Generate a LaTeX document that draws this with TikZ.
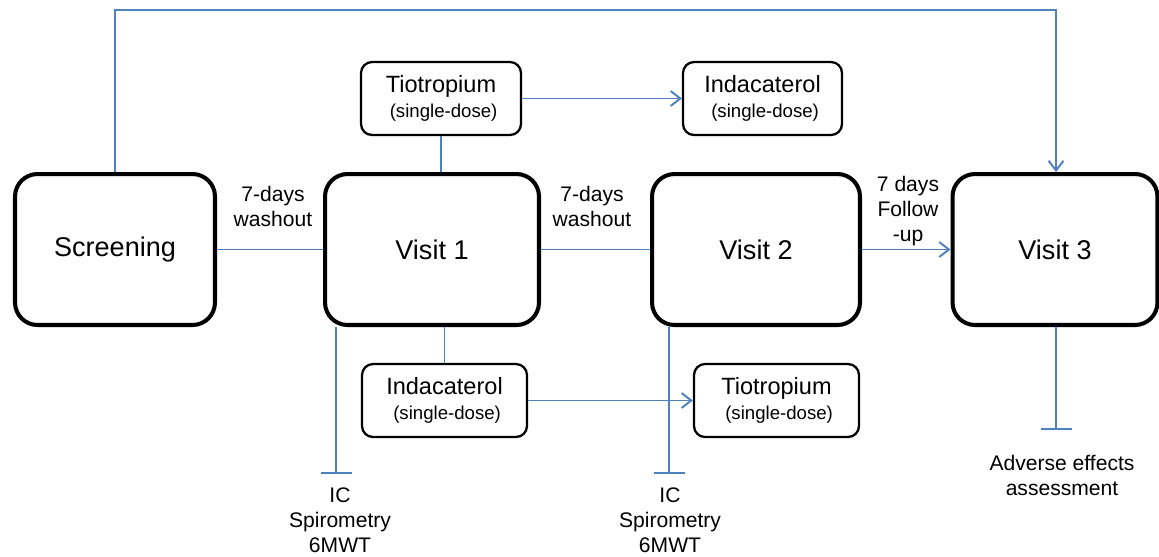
\documentclass[tikz,border=0pt]{standalone}
\usepackage{fontspec}
\setmainfont{Liberation Sans}
\usetikzlibrary{arrows.meta,positioning}
\definecolor{linkblue}{RGB}{79,129,189}

\begin{document}
\begin{tikzpicture}[x=0.02cm,y=-0.02cm,
  visit/.style={draw,line width=2.3pt,rounded corners=0.45cm,minimum height=3.02cm,font=\fontsize{15.4}{18}\selectfont},
  drug/.style={draw,line width=1.3pt,rounded corners=0.22cm,minimum height=1.46cm,align=center,font=\fontsize{13.4}{14.2}\selectfont},
  link/.style={draw=linkblue,line width=1.1pt},
  note/.style={align=center,font=\fontsize{12}{14.2}\selectfont},
  >={Straight Barb[length=5.5pt,width=8.5pt]}]
\useasboundingbox (0,0) rectangle (1159,556);
% visits
\node[visit,minimum width=4.0cm] (scr) at (115,249.5) {Screening};
\node[visit,minimum width=4.28cm] (v1) at (432,249.5) {Visit 1};
\node[visit,minimum width=4.16cm] (v2) at (756,249.5) {Visit 2};
\node[visit,minimum width=4.1cm] (v3) at (1055,249.5) {Visit 3};
% drugs
\node[drug,minimum width=3.2cm] (tio1) at (441,98.5) {Tiotropium\\{\fontsize{10.6}{12}\selectfont\ (single-dose)}};
\node[drug,minimum width=3.18cm] (ind1) at (762.5,98.5) {Indacaterol\\{\fontsize{10.6}{12}\selectfont\ (single-dose)}};
\node[drug,minimum width=3.3cm] (ind2) at (444.5,400.5) {Indacaterol\\{\fontsize{10.6}{12}\selectfont\ (single-dose)}};
\node[drug,minimum width=3.3cm] (tio2) at (776.5,400.5) {Tiotropium\\{\fontsize{10.6}{12}\selectfont\ (single-dose)}};
% labels
\node[note] (wash1) at (273,206) {7-days\\washout};
\node[note] (wash2) at (592,206) {7-days\\washout};
\node[note] (fup) at (908,211) {7 days\\Follow\\-up};
\node[note] (ic1) at (340,520) {IC\\Spirometry\\6MWT};
\node[note] (ic2) at (670,520) {IC\\Spirometry\\6MWT};
\node[note] (ae) at (1062,475) {Adverse effects\\assessment};
\coordinate (ceil) at (0,10);
\coordinate (bar1) at (336,474);
\coordinate (bar2) at (669,474);
\coordinate (bar3) at (1056,430);
% connectors
\draw[link] (scr) -- (v1);
\draw[link] (v1) -- (v2);
\draw[link,->] (v2) -- (v3);
\draw[link,->] (scr.north) |- (ceil -| bar3) -- (v3.north -| bar3);
\draw[link] (tio1.south) -- (tio1.south |- v1.north);
\draw[link,->] (tio1) -- (ind1);
\draw[link] (v1.south -| ind2.north) -- (ind2.north);
\draw[link,->] (ind2) -- (tio2);
\foreach \v/\b in {v1/bar1,v2/bar2,v3/bar3}{
  \draw[link,-{Bar[width=0.62cm]}] (\v.south -| \b) -- (\b);}
\end{tikzpicture}
\end{document}
